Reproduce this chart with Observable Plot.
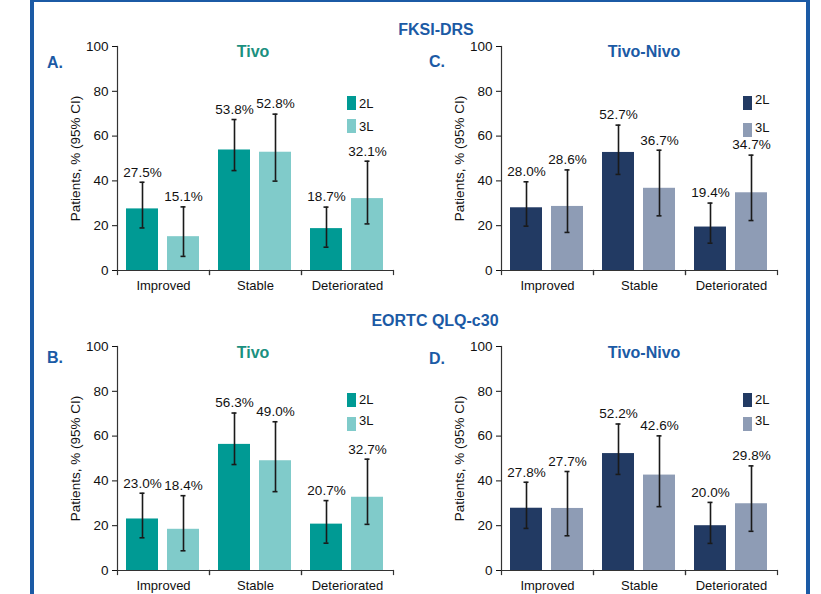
<!DOCTYPE html>
<html>
<head>
<meta charset="utf-8">
<script src="https://cdn.jsdelivr.net/npm/d3@7"></script>
<script src="https://cdn.jsdelivr.net/npm/@observablehq/plot@0.6"></script>
<style>
  html, body { margin: 0; padding: 0; background: #fff; }
  #root { position: relative; width: 821px; height: 594px; overflow: hidden; background: #fff;
          font-family: "Liberation Sans", Arial, sans-serif; }
  .abs { position: absolute; white-space: nowrap; }
  .ctr { transform: translate(-50%, -50%); }
  .vc { transform: translate(0, -50%); }
  .hdr { font-weight: bold; font-size: 16px; color: #1b5aa5; }
  .sw { position: absolute; width: 9px; height: 14px; }
  .lg { font-size: 13px; color: #111; }
</style>
</head>
<body>
<div id="root"></div>
<script>
// ---------- data ----------
const categories = ["Improved", "Stable", "Deteriorated"];
const series = ["2L", "3L"];
const yTicks = [0, 20, 40, 60, 80, 100];

// A. FKSI-DRS, Tivo
const aVal2L = [27.5, 53.8, 18.7];
const aVal3L = [15.1, 52.8, 32.1];
const aLo2L = [19.0, 44.6, 10.4];
const aHi2L = [39.4, 67.4, 28.3];
const aLo3L = [6.3, 39.9, 20.8];
const aHi3L = [28.4, 69.8, 48.8];

// C. FKSI-DRS, Tivo-Nivo
const cVal2L = [28.0, 52.7, 19.4];
const cVal3L = [28.6, 36.7, 34.7];
const cLo2L = [19.8, 42.9, 12.2];
const cHi2L = [39.6, 64.9, 30.1];
const cLo3L = [17.0, 24.4, 22.3];
const cHi3L = [44.9, 53.7, 51.5];

// B. EORTC QLQ-c30, Tivo
const bVal2L = [23.0, 56.3, 20.7];
const bVal3L = [18.4, 49.0, 32.7];
const bLo2L = [14.6, 47.3, 12.2];
const bHi2L = [34.5, 70.3, 31.2];
const bLo3L = [8.8, 35.2, 20.6];
const bHi3L = [33.4, 66.4, 49.7];

// D. EORTC QLQ-c30, Tivo-Nivo
const dVal2L = [27.8, 52.2, 20.0];
const dVal3L = [27.7, 42.6, 29.8];
const dLo2L = [18.8, 42.9, 12.1];
const dHi2L = [39.4, 65.4, 30.4];
const dLo3L = [15.5, 28.5, 17.5];
const dHi3L = [44.2, 60.1, 46.7];

const tivoColors = ["#009a94", "#80cbca"];
const nivoColors = ["#223a63", "#8e9cb5"];

// ---------- layout ----------
const root = document.getElementById("root");
const FONT = '"Liberation Sans", Arial, sans-serif';

function addText(txt, x, y, cls, style) {
  const d = document.createElement("div");
  d.className = "abs " + cls;
  d.textContent = txt;
  d.style.left = x + "px";
  d.style.top = y + "px";
  Object.assign(d.style, style || {});
  root.appendChild(d);
  return d;
}

// blue frame
const border = document.createElement("div");
Object.assign(border.style, {position: "absolute", left: "30px", top: "-2px", width: "780px", height: "700px",
  boxSizing: "border-box", border: "4px solid #1b5aa5"});
root.appendChild(border);

function rowsOf(v2, v3, lo2, hi2, lo3, hi3) {
  const rows = [];
  categories.forEach((c, i) => {
    rows.push({cat: c, series: series[0], value: v2[i], lo: lo2[i], hi: hi2[i]});
    rows.push({cat: c, series: series[1], value: v3[i], lo: lo3[i], hi: hi3[i]});
  });
  return rows;
}

function panel(rows, colors, left, top) {
  const ink = "#1a1a1a";
  const chart = Plot.plot({
    width: 391, height: 270,
    marginLeft: 96, marginRight: 17, marginTop: 16, marginBottom: 30,
    style: {fontFamily: FONT, fontSize: "13px", color: "#111", background: "transparent", overflow: "visible"},
    fx: {domain: categories, padding: 0, axis: null, label: null},
    x: {domain: series, padding: 0.21, axis: null},
    y: {domain: [0, 100], axis: null},
    color: {domain: series, range: colors},
    marks: [
      Plot.barY(rows, {fx: "cat", x: "series", y: "value", fill: "series"}),
      Plot.ruleX(rows, {fx: "cat", x: "series", y1: "lo", y2: "hi", stroke: ink, strokeWidth: 1.6}),
      Plot.tickY(rows, {fx: "cat", x: "series", y: "lo", stroke: ink, strokeWidth: 1.6, insetLeft: 13.5, insetRight: 13.5}),
      Plot.tickY(rows, {fx: "cat", x: "series", y: "hi", stroke: ink, strokeWidth: 1.6, insetLeft: 13.5, insetRight: 13.5}),
      Plot.text(rows, {fx: "cat", x: "series", y: "hi", text: d => d.value.toFixed(1) + "%", dy: -10, fontSize: 13.5, fill: "#111"}),
      Plot.ruleY([0], {stroke: "#333", strokeWidth: 1.2}),
      Plot.frame({anchor: "left", facetAnchor: "left", stroke: "#333", strokeWidth: 1.2}),
      Plot.frame({anchor: "left", insetTop: 224, insetBottom: -4, stroke: "#333", strokeWidth: 1.2}),
      Plot.frame({anchor: "right", insetTop: 224, insetBottom: -4, stroke: "#333", strokeWidth: 1.2}),
      Plot.axisY({ticks: yTicks, tickSize: 5, tickPadding: 4, label: "Patients, % (95% CI)",
        labelAnchor: "center", labelOffset: 47, labelArrow: false, fontSize: 13.5}),
      Plot.axisFx({anchor: "bottom", tickSize: 0, tickPadding: 10, label: null, fontSize: 13})
    ]
  });
  chart.style.position = "absolute";
  chart.style.left = left + "px";
  chart.style.top = top + "px";
  root.appendChild(chart);
}

function legend(colors, x, ys, textYs) {
  series.forEach((s, i) => {
    const sw = document.createElement("div");
    sw.className = "sw";
    sw.style.left = x + "px";
    sw.style.top = ys[i] + "px";
    sw.style.background = colors[i];
    root.appendChild(sw);
    addText(s, x + 12, textYs[i], "vc lg");
  });
}

// Panels
panel(rowsOf(aVal2L, aVal3L, aLo2L, aHi2L, aLo3L, aHi3L), tivoColors, 20, 30);
panel(rowsOf(cVal2L, cVal3L, cLo2L, cHi2L, cLo3L, cHi3L), nivoColors, 404, 30);
panel(rowsOf(bVal2L, bVal3L, bLo2L, bHi2L, bLo3L, bHi3L), tivoColors, 20, 330);
panel(rowsOf(dVal2L, dVal3L, dLo2L, dHi2L, dLo3L, dHi3L), nivoColors, 404, 330);

// Section headers
addText("FKSI-DRS", 436, 30, "ctr hdr");
addText("EORTC QLQ-c30", 435, 321, "ctr hdr");

// Panel letters
addText("A.", 47, 63, "vc hdr");
addText("C.", 429, 62, "vc hdr");
addText("B.", 47, 358, "vc hdr");
addText("D.", 429, 359, "vc hdr");

// Panel titles
addText("Tivo", 253, 52, "ctr hdr", {color: "#1b9080"});
addText("Tivo", 253, 353, "ctr hdr", {color: "#1b9080"});
addText("Tivo-Nivo", 644, 52, "ctr hdr");
addText("Tivo-Nivo", 644, 353, "ctr hdr");

// Legends
legend(tivoColors, 347, [96, 119], [103, 126]);
legend(nivoColors, 743, [96, 123], [99, 127]);
legend(tivoColors, 347, [393, 417], [399, 420]);
legend(nivoColors, 743, [393, 417], [399, 420]);
</script>
</body>
</html>
